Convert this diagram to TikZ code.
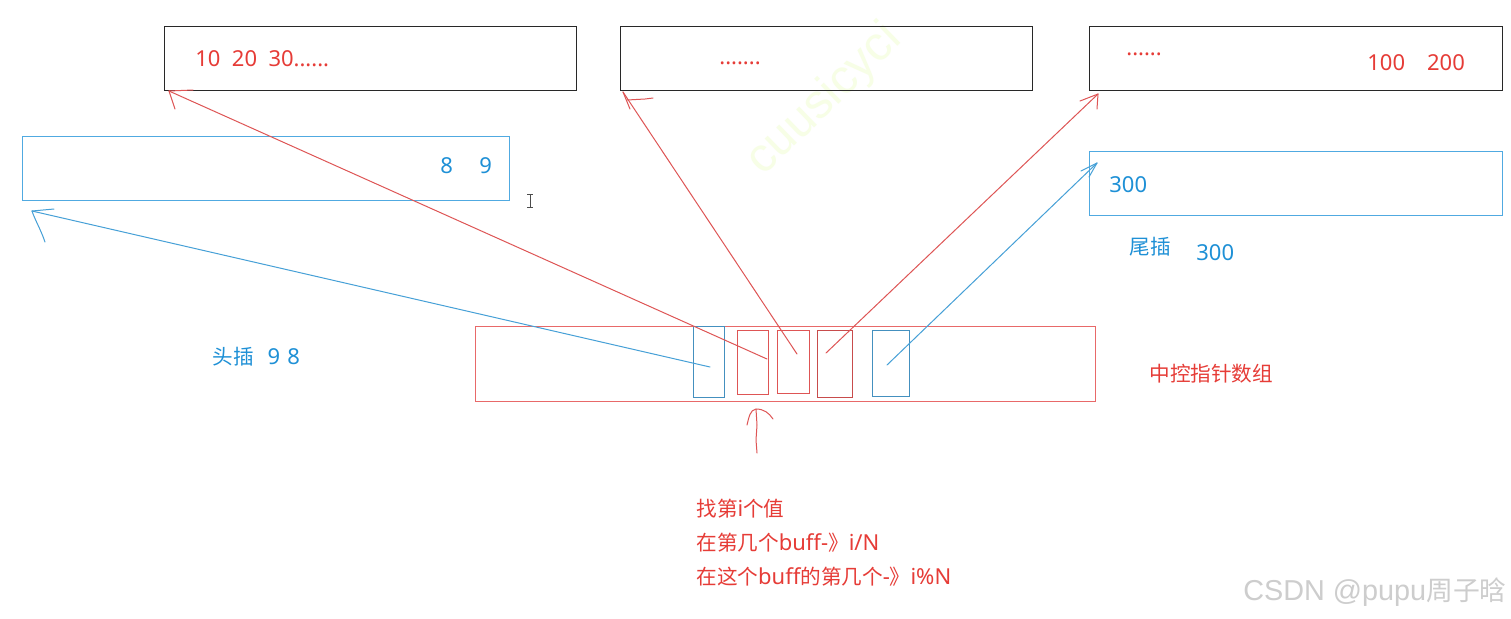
\documentclass[tikz,border=0pt]{standalone}
\usepackage{fontspec}
\setmainfont{Noto Sans}
\newfontfamily\cjkfam{Noto Sans CJK SC}
\newfontfamily\wmfont{Liberation Sans}
\newcommand\zhs[1]{{\cjkfam\fontsize{10.3pt}{12pt}\selectfont #1}}
\definecolor{txtred}{RGB}{230,60,55}
\definecolor{linered}{RGB}{222,85,85}
\definecolor{boxred}{RGB}{232,105,105}
\definecolor{txtblue}{RGB}{30,144,214}
\definecolor{lineblue}{RGB}{70,160,215}
\definecolor{boxblue}{RGB}{80,170,225}
\definecolor{boxblack}{RGB}{40,40,40}
\definecolor{wmgray}{RGB}{205,205,205}
\definecolor{wmyellow}{RGB}{247,254,230}
\begin{document}
\begin{tikzpicture}[x=0.5pt,y=-0.5pt,
  pbox/.style 2 args={draw, line width=0.65pt, inner sep=0pt, anchor=north west,
    minimum width=#1*0.5pt, minimum height=#2*0.5pt},
  txt/.style={inner sep=0pt, anchor=base west, font=\fontsize{11pt}{13pt}\selectfont},
  redtxt/.style={txt, text=txtred},
  bluetxt/.style={txt, text=txtblue},
  redline/.style={draw=linered, line width=0.5pt, line cap=round, line join=round},
  blueline/.style={draw=lineblue, line width=0.5pt, line cap=round, line join=round}]
\useasboundingbox (0,0) rectangle (1511,618);
\fill[white] (0,0) rectangle (1511,618);

% watermarks
\node[text=wmyellow, font=\wmfont\fontsize{24pt}{26pt}\selectfont, rotate=44, inner sep=0pt] (wm) at (825,100) {cuusicyci};
\node[text=wmgray, font=\fontsize{14.4pt}{16pt}\selectfont, inner sep=0pt, anchor=base west] (csdn) at (1243,600) {\wmfont CSDN @pupu{\cjkfam\fontsize{13.4pt}{16pt}\selectfont 周子晗}};

% top black boxes
\node[pbox={412}{64}, draw=boxblack] (A) at (164,26) {};
\node[pbox={412}{64}, draw=boxblack] (B) at (620,26) {};
\node[pbox={413}{64}, draw=boxblack] (C) at (1089,26) {};
% blue boxes
\node[pbox={487}{64}, draw=boxblue] (D) at (22,136) {};
\node[pbox={413}{64}, draw=boxblue] (E) at (1089,151) {};
% central array
\node[pbox={620}{75}, draw=boxred] (M) at (475,326) {};
\node[pbox={31}{71}, draw=boxblue!85!black] (c1) at (693,326) {};
\node[pbox={31}{64}, draw=linered] (c2) at (737,330) {};
\node[pbox={32}{63}, draw=linered] (c3) at (777,330) {};
\node[pbox={35}{67}, draw=linered!90!black] (c4) at (817,330) {};
\node[pbox={37}{66}, draw=boxblue!85!black] (c5) at (872,330) {};

% texts
\node[redtxt] (tA) at (195,66) {10\hspace{5.7pt}20\hspace{5.7pt}30......};
\node[redtxt] (tB) at (719,64) {.......};
\node[redtxt] (tC) at (1126,55) {......};
\node[redtxt] (tC2) at (1367,70) {100\hspace{11pt}200};
\node[bluetxt] (tD) at (440,173) {8\hspace{13.2pt}9};
\node[bluetxt] (tE) at (1109,192) {300};
\node[bluetxt] (wei) at (1129,254) {\zhs{尾插}};
\node[bluetxt] (wei300) at (1196,260) {300};
\node[bluetxt] (tou) at (212,364) {\zhs{头插}\hspace{7pt}9\hspace{3.6pt}8};
\node[redtxt] (zk) at (1149,381) {\zhs{中控指针数组}};
\node[redtxt] (b1) at (696,516) {\zhs{找第}i\zhs{个值}};
\node[redtxt] (b2) at (696,550) {\zhs{在第几个}buff-\zhs{》}i/N};
\node[redtxt] (b3) at (696,584) {\zhs{在这个}buff\zhs{的第几个}-\zhs{》}i\%N};

% connector coordinates
\coordinate (s1) at (710,367); \coordinate (t1) at (32,211);
\coordinate (s2) at (767,359); \coordinate (t2) at (169,91);
\coordinate (s3) at (797,354); \coordinate (t3) at (623,92);
\coordinate (s4) at (826,353); \coordinate (t4) at (1098,94);
\coordinate (s5) at (887,365); \coordinate (t5) at (1097,163);
\coordinate (ub) at (757,453); \coordinate (ut) at (756,409);

% blue connector to head-insert box
\draw[blueline] (s1) -- (t1);
\draw[blueline] (t1) -- (54,209);
\draw[blueline] (t1) .. controls (35,220) and (41,230) .. (45,242);
% red connectors
\draw[redline] (s2) -- (t2);
\draw[redline] (t2) -- (193,90);
\draw[redline] (t2) -- (175,109);
\draw[redline] (s3) -- (t3);
\draw[redline] (t3) -- (630,109);
\draw[redline] (627,100) -- (645,99) -- (653,98);
\draw[redline] (s4) -- (t4);
\draw[redline] (t4) -- (1097,109);
\draw[redline] (t4) -- (1080,101);
% blue connector to tail-insert box
\draw[blueline] (s5) -- (t5);
\draw[blueline] (t5) -- (1081,171);
\draw[blueline] (t5) -- (1089,177);

% hand-drawn arrow below the array
\draw[redline] (ub) -- (756,440) -- (757,425) -- (ut);
\draw[redline] (747,425) .. controls (749,417) and (750,410) .. (ut)
  .. controls (764,409) and (769,413) .. (773,419);

% text cursor
\draw[black!70, line width=0.5pt] (530,194) -- (530,207) (527,194) -- (533,194) (527,207) -- (533,207);
\end{tikzpicture}
\end{document}
